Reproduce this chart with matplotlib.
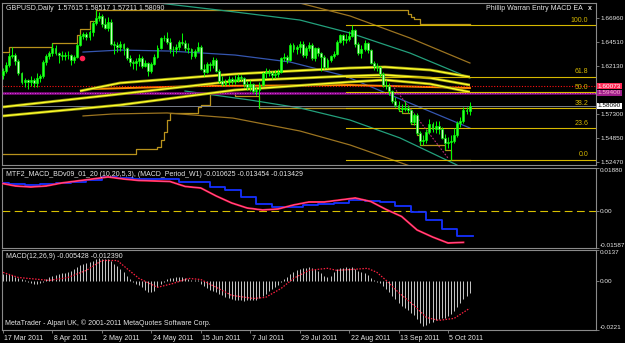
import numpy as np
import matplotlib
matplotlib.use('Agg')
import matplotlib.pyplot as plt
import matplotlib.transforms as mtransforms

plt.rcParams['font.family'] = ['Liberation Sans', 'DejaVu Sans']

# ---------------- data ----------------
date_tick_idx = [0, 16, 32, 48, 64, 80, 96, 112, 128, 144]
date_tick_lbl = ['17 Mar 2011', '8 Apr 2011', '2 May 2011', '24 May 2011', '15 Jun 2011',
                 '7 Jul 2011', '29 Jul 2011', '22 Aug 2011', '13 Sep 2011', '5 Oct 2011']

opens = [
    1.6120, 1.6160, 1.6225, 1.6310, 1.6320, 1.6260, 1.6140, 1.6050, 1.6070, 1.6050,
    1.6070, 1.6040, 1.6090, 1.6110, 1.6250, 1.6310, 1.6340, 1.6390, 1.6340, 1.6320,
    1.6310, 1.6320, 1.6320, 1.6270, 1.6300, 1.6420, 1.6510, 1.6530, 1.6500, 1.6550,
    1.6640, 1.6690, 1.6710, 1.6630, 1.6590, 1.6650, 1.6430, 1.6420, 1.6400, 1.6430,
    1.6390, 1.6290, 1.6250, 1.6240, 1.6260, 1.6290, 1.6210, 1.6240, 1.6160, 1.6230,
    1.6300, 1.6390, 1.6490, 1.6490, 1.6450, 1.6380, 1.6380, 1.6400, 1.6450, 1.6440,
    1.6390, 1.6380, 1.6310, 1.6360, 1.6400, 1.6180, 1.6150, 1.6230, 1.6220, 1.6270,
    1.6160, 1.6060, 1.6030, 1.6050, 1.6080, 1.6060, 1.6070, 1.6100, 1.6090, 1.6030,
    1.6000, 1.6030, 1.5960, 1.5970, 1.6020, 1.6140, 1.6150, 1.6140, 1.6120, 1.6130,
    1.6150, 1.6290, 1.6300, 1.6270, 1.6420, 1.6380, 1.6400, 1.6430, 1.6320, 1.6390,
    1.6420, 1.6290, 1.6390, 1.6340, 1.6300, 1.6200, 1.6270, 1.6310, 1.6330, 1.6450,
    1.6520, 1.6470, 1.6480, 1.6510, 1.6570, 1.6430, 1.6340, 1.6380, 1.6440, 1.6370,
    1.6240, 1.6210, 1.6200, 1.6130, 1.6020, 1.6010, 1.5960, 1.5860, 1.5820, 1.5780,
    1.5780, 1.5790, 1.5770, 1.5650, 1.5720, 1.5540, 1.5460, 1.5470, 1.5550, 1.5630,
    1.5580, 1.5610, 1.5580, 1.5490, 1.5440, 1.5450, 1.5460, 1.5520, 1.5640, 1.5660,
    1.5770, 1.57615]
highs = [
    1.6190, 1.6250, 1.6340, 1.6400, 1.6340, 1.6280, 1.6150, 1.6090, 1.6080, 1.6110,
    1.6090, 1.6140, 1.6130, 1.6270, 1.6330, 1.6360, 1.6440, 1.6420, 1.6350, 1.6360,
    1.6350, 1.6360, 1.6330, 1.6320, 1.6440, 1.6530, 1.6550, 1.6550, 1.6570, 1.6660,
    1.6770, 1.6750, 1.6730, 1.6690, 1.6700, 1.6680, 1.6460, 1.6450, 1.6460, 1.6440,
    1.6400, 1.6320, 1.6270, 1.6290, 1.6330, 1.6310, 1.6270, 1.6250, 1.6250, 1.6330,
    1.6420, 1.6500, 1.6520, 1.6550, 1.6490, 1.6410, 1.6430, 1.6470, 1.6546, 1.6470,
    1.6440, 1.6390, 1.6380, 1.6450, 1.6420, 1.6230, 1.6250, 1.6250, 1.6300, 1.6290,
    1.6180, 1.6110, 1.6080, 1.6110, 1.6100, 1.6120, 1.6130, 1.6120, 1.6100, 1.6060,
    1.6070, 1.6040, 1.6000, 1.6050, 1.6150, 1.6190, 1.6180, 1.6160, 1.6170, 1.6180,
    1.6300, 1.6340, 1.6320, 1.6440, 1.6440, 1.6420, 1.6460, 1.6460, 1.6410, 1.6450,
    1.6440, 1.6400, 1.6400, 1.6350, 1.6320, 1.6290, 1.6320, 1.6360, 1.6470, 1.6530,
    1.6530, 1.6530, 1.6560, 1.6618, 1.6580, 1.6450, 1.6420, 1.6470, 1.6450, 1.6380,
    1.6260, 1.6240, 1.6210, 1.6150, 1.6070, 1.6040, 1.5970, 1.5900, 1.5860, 1.5830,
    1.5860, 1.5820, 1.5780, 1.5740, 1.5740, 1.5560, 1.5520, 1.5580, 1.5680, 1.5650,
    1.5660, 1.5660, 1.5600, 1.5530, 1.5500, 1.5520, 1.5590, 1.5660, 1.5700, 1.5800,
    1.5800, 1.58517]
lows = [
    1.6080, 1.6140, 1.6200, 1.6290, 1.6220, 1.6120, 1.6030, 1.6000, 1.5980, 1.6010,
    1.6000, 1.6000, 1.6050, 1.6090, 1.6220, 1.6280, 1.6310, 1.6320, 1.6240, 1.6270,
    1.6270, 1.6280, 1.6220, 1.6240, 1.6290, 1.6410, 1.6480, 1.6470, 1.6470, 1.6510,
    1.6620, 1.6660, 1.6600, 1.6580, 1.6560, 1.6420, 1.6330, 1.6350, 1.6360, 1.6320,
    1.6270, 1.6210, 1.6180, 1.6170, 1.6210, 1.6190, 1.6200, 1.6110, 1.6140, 1.6220,
    1.6290, 1.6380, 1.6460, 1.6430, 1.6340, 1.6310, 1.6340, 1.6370, 1.6420, 1.6360,
    1.6340, 1.6280, 1.6290, 1.6350, 1.6170, 1.6110, 1.6140, 1.6160, 1.6190, 1.6150,
    1.6040, 1.6010, 1.6010, 1.6020, 1.6030, 1.6030, 1.6050, 1.6060, 1.6000, 1.5970,
    1.5960, 1.5940, 1.5920, 1.5789, 1.6010, 1.6090, 1.6110, 1.6080, 1.6090, 1.6100,
    1.6140, 1.6260, 1.6240, 1.6260, 1.6350, 1.6330, 1.6340, 1.6300, 1.6290, 1.6360,
    1.6270, 1.6260, 1.6310, 1.6160, 1.6180, 1.6190, 1.6250, 1.6290, 1.6320, 1.6440,
    1.6420, 1.6440, 1.6460, 1.6500, 1.6400, 1.6320, 1.6290, 1.6360, 1.6340, 1.6230,
    1.6170, 1.6160, 1.6100, 1.6000, 1.5980, 1.5920, 1.5840, 1.5800, 1.5760, 1.5740,
    1.5760, 1.5740, 1.5630, 1.5620, 1.5520, 1.5420, 1.5420, 1.5440, 1.5530, 1.5550,
    1.5540, 1.5530, 1.5480, 1.5370, 1.5390, 1.5272, 1.5440, 1.5500, 1.5600, 1.5640,
    1.5730, 1.57211]
closes = [
    1.6160, 1.6225, 1.6310, 1.6320, 1.6260, 1.6140, 1.6050, 1.6070, 1.6050, 1.6070,
    1.6040, 1.6090, 1.6110, 1.6250, 1.6310, 1.6340, 1.6390, 1.6340, 1.6320, 1.6310,
    1.6320, 1.6320, 1.6270, 1.6300, 1.6420, 1.6510, 1.6530, 1.6500, 1.6550, 1.6640,
    1.6690, 1.6710, 1.6630, 1.6590, 1.6650, 1.6430, 1.6420, 1.6400, 1.6430, 1.6390,
    1.6290, 1.6250, 1.6240, 1.6260, 1.6290, 1.6210, 1.6240, 1.6160, 1.6230, 1.6300,
    1.6390, 1.6490, 1.6490, 1.6450, 1.6380, 1.6380, 1.6400, 1.6450, 1.6440, 1.6390,
    1.6380, 1.6310, 1.6360, 1.6400, 1.6180, 1.6150, 1.6230, 1.6220, 1.6270, 1.6160,
    1.6060, 1.6030, 1.6050, 1.6080, 1.6060, 1.6070, 1.6100, 1.6090, 1.6030, 1.6000,
    1.6030, 1.5960, 1.5970, 1.6020, 1.6140, 1.6150, 1.6140, 1.6120, 1.6130, 1.6150,
    1.6290, 1.6300, 1.6270, 1.6420, 1.6380, 1.6400, 1.6430, 1.6320, 1.6390, 1.6420,
    1.6290, 1.6390, 1.6340, 1.6300, 1.6200, 1.6270, 1.6310, 1.6330, 1.6450, 1.6520,
    1.6470, 1.6480, 1.6510, 1.6570, 1.6430, 1.6340, 1.6380, 1.6440, 1.6370, 1.6240,
    1.6210, 1.6200, 1.6130, 1.6020, 1.6010, 1.5960, 1.5860, 1.5820, 1.5780, 1.5780,
    1.5790, 1.5770, 1.5650, 1.5720, 1.5540, 1.5460, 1.5470, 1.5550, 1.5630, 1.5580,
    1.5610, 1.5580, 1.5490, 1.5440, 1.5450, 1.5460, 1.5520, 1.5640, 1.5660, 1.5770,
    1.57615, 1.58090]

# moving-average style bands (bar index, price)
band_a_idx = [24.9, 37.9, 75.1, 112.3, 123.6, 138.2, 151.1]
band_a_val = [1.5959, 1.6040, 1.6130, 1.6190, 1.6200, 1.6170, 1.6100]
band_b_idx = [0, 37.9, 75.1, 112.3, 123.6, 138.2, 151.1]
band_b_val = [1.5799, 1.5929, 1.6060, 1.6110, 1.6120, 1.6090, 1.6019]
band_c_idx = [0, 37.9, 75.1, 112.3, 123.6, 138.2, 151.1]
band_c_val = [1.5709, 1.5819, 1.5969, 1.6050, 1.6070, 1.6030, 1.5949]
orange_idx = [28.2, 63.8, 112.3, 151.1]
orange_val = [1.5979, 1.6009, 1.6019, 1.5989]
blue_idx = [25.9, 37.9, 54.0, 75.1, 92.9, 110.7, 128.5, 151.1]
blue_val = [1.6350, 1.6370, 1.6360, 1.6320, 1.6250, 1.6110, 1.5879, 1.5588]
teal_u_idx = [47.6, 75.1, 96.1, 112.3, 131.7, 151.1]
teal_u_val = [1.6852, 1.6752, 1.6671, 1.6541, 1.6340, 1.6090]
teal_l_idx = [58.9, 79.9, 96.1, 112.3, 128.5, 146.9]
teal_l_val = [1.5959, 1.5869, 1.5789, 1.5668, 1.5488, 1.5217]
brown_u_idx = [92.2, 112.3, 131.7, 151.1]
brown_u_val = [1.6872, 1.6712, 1.6491, 1.6240]
brown_l_idx = [25.9, 35.6, 53.1, 74.4, 96.1, 112.3, 131.7]
brown_l_val = [1.5709, 1.5729, 1.5739, 1.5688, 1.5558, 1.5418, 1.5207]
trend_idx = [125.9, 144.0]
trend_val = [1.6019, 1.5287]
signal_dot_idx = [25.6]
signal_dot_val = [1.6290]

upper_idx = [0, 2, 16, 24, 25, 28, 30, 131, 132, 133, 135, 151]
upper_val = [1.6350, 1.6400, 1.6441, 1.6520, 1.6580, 1.6660, 1.6770, 1.6730, 1.6700, 1.6680, 1.6631, 1.6631]
lower_idx = [0, 43, 50, 51, 52, 53, 54, 63, 64, 67, 75, 83, 128, 129, 132, 134, 135, 143, 145, 151]
lower_val = [1.5327, 1.5378, 1.5398, 1.5468, 1.5548, 1.5668, 1.5739, 1.5799, 1.5819, 1.5940, 1.5910,
             1.5789, 1.5760, 1.5740, 1.5630, 1.5520, 1.5420, 1.5370, 1.5272, 1.5272]

fib_high = 1.6618
fib_low = 1.5271
fib_levels = [0.0, 23.6, 38.2, 50.0, 61.8, 100.0]
fib_start_idx = 111
hline_red = 1.60073
hline_purple = 1.59400
price_ticks = [1.66960, 1.64510, 1.62130, 1.57300, 1.54850, 1.52470]

# MTF MACD (weekly values, weeks starting Monday)
mtf_blue = [0.01231, 0.01188, 0.01144, 0.01166, 0.01231, 0.01274, 0.01361, 0.01491, 0.01448, 0.01404,
            0.01404, 0.01383, 0.01274, 0.01274, 0.01057, 0.00927, 0.00624, 0.00321, 0.00191, 0.00191,
            0.00277, 0.00321, 0.00364, 0.00494, 0.00451, 0.00407, 0.00234, -0.00026, -0.00394, -0.00763,
            -0.01062]
mtf_red = [0.01231, 0.01101, 0.01057, 0.01101, 0.01231, 0.01318, 0.01404, 0.01491, 0.01404, 0.01339,
           0.01318, 0.01296, 0.01079, 0.01014, 0.00667, 0.00364, 0.00147, 0.00061, 0.00104, 0.00277,
           0.00407, 0.00407, 0.00494, 0.00581, 0.00429, 0.00082, -0.00221, -0.00806, -0.01110, -0.01370,
           -0.01343]
mtf_max, mtf_min = 0.01880, -0.01587

# MACD(12,26,9)
macd_hist = [
    0.0030, 0.0028, 0.0029, 0.0024, 0.0018, 0.0013, 0.0006, 0.0001, -0.0006, -0.0011,
    -0.0013, -0.0014, -0.0011, -0.0004, 0.0006, 0.0014, 0.0022, 0.0027, 0.0030, 0.0033,
    0.0036, 0.0039, 0.0041, 0.0050, 0.0060, 0.0068, 0.0075, 0.0080, 0.0085, 0.0090,
    0.0096, 0.0099, 0.0098, 0.0097, 0.0095, 0.0086, 0.0076, 0.0064, 0.0052, 0.0037,
    0.0022, 0.0008, -0.0004, -0.0013, -0.0020, -0.0030, -0.0040, -0.0050, -0.0053, -0.0045,
    -0.0030, -0.0015, -0.0004, 0.0008, 0.0012, 0.0013, 0.0014, 0.0014, 0.0015, 0.0012,
    0.0008, 0.0003, 0.0001, 0.0002, -0.0013, -0.0025, -0.0033, -0.0040, -0.0045, -0.0052,
    -0.0060, -0.0066, -0.0075, -0.0080, -0.0084, -0.0086, -0.0087, -0.0088, -0.0089, -0.0088,
    -0.0087, -0.0086, -0.0085, -0.0080, -0.0070, -0.0058, -0.0048, -0.0038, -0.0030, -0.0021,
    -0.0008, 0.0005, 0.0015, 0.0030, 0.0040, 0.0048, 0.0054, 0.0056, 0.0058, 0.0059,
    0.0055, 0.0050, 0.0042, 0.0032, 0.0022, 0.0016, 0.0020, 0.0038, 0.0050, 0.0056,
    0.0058, 0.0059, 0.0058, 0.0060, 0.0052, 0.0044, 0.0038, 0.0034, 0.0024, 0.0012,
    0.0004, -0.0004, -0.0012, -0.0024, -0.0036, -0.0052, -0.0068, -0.0083, -0.0098, -0.0112,
    -0.0122, -0.0132, -0.0145, -0.0156, -0.0172, -0.0190, -0.0205, -0.0200, -0.0190, -0.0183,
    -0.0176, -0.0170, -0.0168, -0.0166, -0.0160, -0.0150, -0.0136, -0.0118, -0.0100, -0.0084,
    -0.0070, -0.0054]
macd_sig_idx = [0, 5, 15, 21, 27, 32, 37, 40, 44, 50, 55, 60, 64, 69, 74, 81, 85, 90, 94, 99,
                105, 108, 113, 118, 121, 124, 128, 133, 137, 141, 146, 151]
macd_sig_val = [0.0037, 0.0014, 0.0001, 0.0014, 0.0046, 0.0090, 0.0090, 0.0055, 0.0010, -0.0030,
                -0.0013, 0.0010, 0.0005, -0.0030, -0.0066, -0.0080, -0.0075, -0.0035, 0.0010, 0.0046,
                0.0055, 0.0046, 0.0050, 0.0055, 0.0037, 0.0001, -0.0053, -0.0111, -0.0165, -0.0178,
                -0.0169, -0.0124]
macd_max, macd_min = 0.0137, -0.0221

# ---------------- figure ----------------
W, H = 625, 343
fig = plt.figure(figsize=(W / 100, H / 100), dpi=100, facecolor='black')
FS = 5.0
FSR = 4.6
TXT = '#e6e6e6'
GRAY = '#8a8a8a'


def panel(top, bottom):
    a = fig.add_axes([2 / W, 1 - bottom / H, 594 / W, (bottom - top) / H])
    a.set_facecolor('black')
    for s in a.spines.values():
        s.set_color(GRAY)
        s.set_linewidth(0.8)
    a.set_xlim(-0.32, 191.9)
    a.set_xticks([])
    a.yaxis.tick_right()
    a.tick_params(axis='y', direction='out', length=2.0, width=0.6, color=GRAY,
                  labelcolor=TXT, labelsize=FSR, pad=1.0)
    return a


ax = panel(3, 165)
ax2 = panel(168, 248)
ax3 = panel(250, 330)

n = min(len(opens), len(highs), len(lows), len(closes))
o = np.array(opens[:n]); h = np.array(highs[:n]); l = np.array(lows[:n]); c = np.array(closes[:n])
idx = np.arange(n)

# ---- main panel ----
ax.set_ylim(1.52170, 1.68420)
ax.set_yticks(price_ticks)
ax.set_yticklabels([f'{p:.5f}' for p in price_ticks])

ax.plot(upper_idx, upper_val, color='#b8921c', lw=0.9, drawstyle='steps-post', zorder=2)
ax.plot(lower_idx, lower_val, color='#b8921c', lw=0.9, drawstyle='steps-post', zorder=2)
ax.plot(teal_u_idx, teal_u_val, color='#23a07c', lw=0.9, zorder=2)
ax.plot(teal_l_idx, teal_l_val, color='#23a07c', lw=0.9, zorder=2)
ax.plot(brown_u_idx, brown_u_val, color='#9c7420', lw=0.9, zorder=2)
ax.plot(brown_l_idx, brown_l_val, color='#9c7420', lw=0.9, zorder=2)
ax.plot(blue_idx, blue_val, color='#3556b0', lw=0.9, zorder=2)

ax.axhline(hline_purple, color='#8a0a8a', lw=1.8, zorder=2)
ax.axhline(hline_purple, color='#ff50ff', lw=0.6, ls=(0, (1, 2)), zorder=2)
ax.plot(orange_idx, orange_val, color='#ff8a00', lw=1.4, zorder=2)
ax.axhline(hline_red, color='#ff1010', lw=0.8, ls=(0, (1, 1.5)), zorder=2)

for bi, bv in ((band_a_idx, band_a_val), (band_b_idx, band_b_val), (band_c_idx, band_c_val)):
    ax.plot(bi, bv, color='#8c8c10', lw=2.1, zorder=2.5, solid_capstyle='butt')
    ax.plot(bi, bv, color='#ffff2a', lw=1.0, zorder=2.6, solid_capstyle='butt')

ax.axhline(c[-1], color='#8890a0', lw=0.6, zorder=2)

# fibonacci levels
for lv in fib_levels:
    pv = fib_low + lv / 100.0 * (fib_high - fib_low)
    ax.plot([fib_start_idx, 191.9], [pv, pv], color='#d6b800', lw=0.8, zorder=2.7)
    ax.text(189.4, pv + 0.0012, f'{lv:.1f}', color='#d6b800', fontsize=FS,
            ha='right', va='bottom', zorder=5)

ax.plot(trend_idx, trend_val, color='#c0307a', lw=0.8, ls=(0, (1.5, 1.5)), zorder=2.7)

# candles
ax.vlines(idx, l, h, color='#00ff00', lw=0.7, zorder=3)
up = c >= o
bb = np.minimum(o, c)
bh = np.maximum(np.abs(c - o), 0.0004)
ax.bar(idx[up], bh[up], bottom=bb[up], width=0.62, color='#30ff30', edgecolor='#00ff00', lw=0.5, zorder=3.1)
ax.bar(idx[~up], bh[~up], bottom=bb[~up], width=0.62, color='#c8ffc0', edgecolor='#00e000', lw=0.5, zorder=3.1)

ax.plot(signal_dot_idx, signal_dot_val, 'o', color='#ff2050', ms=3, zorder=4)

# right-side price boxes
ytr = mtransforms.blended_transform_factory(ax.transAxes, ax.transData)
box = dict(boxstyle='square,pad=0.1', lw=0)
ax.text(1.003, hline_red, f'{hline_red:.5f}', transform=ytr, fontsize=FSR, color='white', va='center',
        ha='left', bbox=dict(box, fc='#ff2a55'), clip_on=False)
ax.text(1.003, hline_purple, f'{hline_purple:.5f}', transform=ytr, fontsize=FSR, color='#ffb0d0',
        va='center', ha='left', bbox=dict(box, fc='#a0208c'), clip_on=False)
ax.text(1.003, c[-1], f'{c[-1]:.5f}', transform=ytr, fontsize=FSR, color='black', va='center', ha='left',
        bbox=dict(box, fc='white'), clip_on=False)

# ---- MTF MACD panel ----
ax2.set_ylim(mtf_min, mtf_max)
ax2.axhline(0, color='#d8c000', lw=0.8, ls=(0, (7, 4)))
wk = np.arange(len(mtf_blue)) * 5 - 3
ax2.plot(np.append(wk, n), np.append(mtf_blue, mtf_blue[-1]), color='#1430ff', lw=1.3,
         drawstyle='steps-post', zorder=3)
ax2.plot(wk + 2, mtf_red, color='#ff1e3c', lw=1.4, zorder=3)
ax2.plot(wk + 2, mtf_red, color='#ff66c8', lw=0.4, zorder=3.1)
ax2.set_yticks([mtf_max, 0, mtf_min])
ax2.set_yticklabels([f'{mtf_max:.5f}', '0.00', f'{mtf_min:.5f}'])
labs = ax2.get_yticklabels()
labs[0].set_va('top'); labs[2].set_va('bottom')

# ---- MACD panel ----
ax3.set_ylim(macd_min, macd_max)
hist = np.array(macd_hist[:n])
ax3.vlines(np.arange(len(hist)), 0, hist, color='#c8c8c8', lw=0.7)
ax3.plot(macd_sig_idx, macd_sig_val, color='#ff2040', lw=0.9, ls=(0, (1.2, 1.2)))
ax3.set_yticks([macd_max, 0, macd_min])
ax3.set_yticklabels([f'{macd_max:.4f}', '0.00', f'{macd_min:.4f}'])
labs = ax3.get_yticklabels()
labs[0].set_va('top'); labs[2].set_va('bottom')

ax3.set_xticks(date_tick_idx)
ax3.set_xticklabels(date_tick_lbl)
ax3.tick_params(axis='x', direction='out', length=2.5, width=0.6, color=GRAY,
                labelcolor=TXT, labelsize=FS, pad=1)
off = mtransforms.ScaledTranslation(1.5 / 100, 0, fig.dpi_scale_trans)
for t in ax3.get_xticklabels():
    t.set_ha('left')
    t.set_transform(t.get_transform() + off)

# ---- texts ----
def ftext(x, y, s, **kw):
    fig.text(x / W, 1 - y / H, s, color=TXT, fontsize=FS, va='center', **kw)

ftext(6, 8, f'GBPUSD,Daily  {opens[-1]:.5f} {highs[-1]:.5f} {lows[-1]:.5f} {closes[-1]:.5f}')
ftext(583, 8, 'Phillip Warran Entry MACD EA', ha='right')
ftext(588, 8, 'x', fontweight='bold')
ftext(6, 175, 'MTF2_MACD_BDv09_01_20 (10,20,5,3), (MACD_Period_W1) -0.010625 -0.013454 -0.013429')
ftext(6, 257, 'MACD(12,26,9) -0.005428 -0.012390')
ftext(5, 323, 'MetaTrader - Alpari UK, \u00a9 2001-2011 MetaQuotes Software Corp.')

fig.savefig('out.png', dpi=100, facecolor='black')
